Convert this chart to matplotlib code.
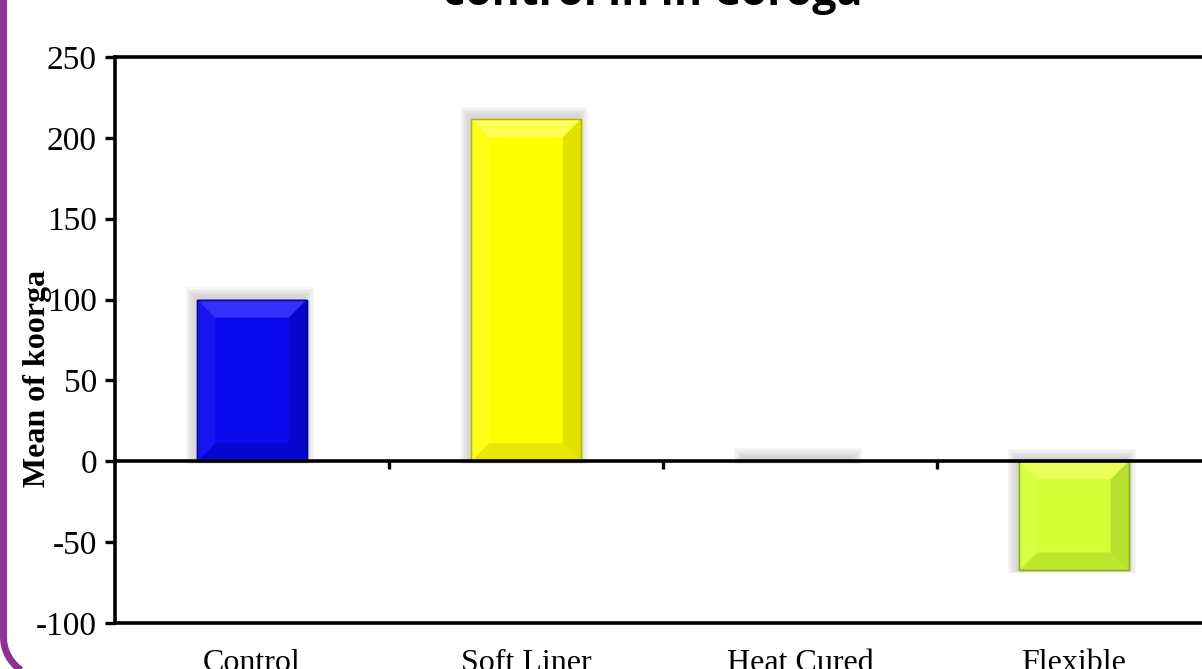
import matplotlib
matplotlib.use("Agg")
import matplotlib.pyplot as plt
from matplotlib.patches import Rectangle, Polygon
from matplotlib.lines import Line2D
import numpy as np

categories = ["Control", "Soft Liner", "Heat Cured", "Flexible"]
values = [100, 211.5, 0.5, -67.5]
colors = ["#0A0AEE", "#FFFF00", "#D8D8D8", "#D2FF36"]
light = ["#3A3AFF", "#FFFF66", "#EEEEEE", "#F0FF60"]
dark = ["#00009A", "#B8B800", "#AAAAAA", "#8FB020"]
yticks = [-100, -50, 0, 50, 100, 150, 200, 250]
title = "control in in Coroga"
ylabel = "Mean of koorga"

W, H = 1202, 669
fig = plt.figure(figsize=(W / 100, H / 100), dpi=100)
ax = fig.add_axes([115 / W, 1 - 623 / H, 1096 / W, 566 / H])

x = np.arange(len(categories))
bw = 0.4
ax.set_xlim(-0.5, len(categories) - 0.5)
ax.set_ylim(-100, 250)

px_x = (len(categories)) / 1096.0
px_y = 350 / 566.0
bev_x = 18 * px_x
bev_y = 18 * px_y

for xi, v, c, lc, dc in zip(x, values, colors, light, dark):
    x0, x1 = xi - bw / 2, xi + bw / 2
    top = max(v, 0)
    bot = min(v, 0)
    for k in range(6, 0, -1):
        e = k * 1.6
        ax.add_patch(Rectangle((x0 - e * px_x - 2 * px_x, bot - e * px_y * 0.3),
                               (x1 - x0) + 2 * e * px_x, (top - bot) + e * px_y * 1.3 + 3 * px_y,
                               facecolor="#707070", alpha=0.05, lw=0, zorder=1))
    if abs(v) < 2:
        continue
    ax.add_patch(Rectangle((x0, bot), x1 - x0, top - bot, facecolor=c,
                           edgecolor=dc, lw=1.0, zorder=3))
    by = min(bev_y, (top - bot) / 2)
    ax.add_patch(Polygon([(x0, top), (x1, top), (x1 - bev_x, top - by), (x0 + bev_x, top - by)],
                         closed=True, facecolor=lc, lw=0, zorder=4, alpha=0.85))
    ax.add_patch(Polygon([(x0, bot), (x1, bot), (x1 - bev_x, bot + by), (x0 + bev_x, bot + by)],
                         closed=True, facecolor=dc, lw=0, zorder=4, alpha=0.3))
    ax.add_patch(Polygon([(x0, bot), (x0, top), (x0 + bev_x, top - by), (x0 + bev_x, bot + by)],
                         closed=True, facecolor=lc, lw=0, zorder=4, alpha=0.25))
    ax.add_patch(Polygon([(x1, bot), (x1, top), (x1 - bev_x, top - by), (x1 - bev_x, bot + by)],
                         closed=True, facecolor=dc, lw=0, zorder=4, alpha=0.4))
    ax.add_patch(Rectangle((x0, bot), x1 - x0, top - bot, facecolor="none",
                           edgecolor=dc, lw=1.0, zorder=5))

ax.axhline(0, color="black", lw=2.6, zorder=6)
bounds = np.arange(len(categories) - 1) + 0.5
ax.plot(bounds, np.zeros_like(bounds), linestyle="none", marker=3,
        markersize=6, mew=2.4, color="black", zorder=6, clip_on=False)

for s in ["left", "top", "bottom"]:
    ax.spines[s].set_linewidth(2.6)
    ax.spines[s].set_color("black")
ax.spines["right"].set_visible(False)

ax.set_yticks(yticks)
ax.set_yticklabels([str(t) for t in yticks], fontfamily="Liberation Serif", fontsize=24)
ax.tick_params(axis="y", direction="out", length=7, width=2.4, pad=6)
ax.set_xticks(x)
ax.set_xticklabels(categories, fontfamily="Liberation Serif", fontsize=23)
ax.tick_params(axis="x", length=0, pad=19)

fig.text(38 / W, 1 - 378 / H, ylabel, rotation=90, ha="center", va="center",
         fontfamily="Liberation Serif", fontweight="bold", fontsize=23)

fig.text(653 / W, 1 - 5 / H, title, ha="center", va="baseline",
         fontfamily="Open Sans", fontweight="bold", fontsize=31)

r = 40.0
xs = [3.5, 3.5]
ys = [-10, H - r]
th = np.linspace(np.pi, 1.5 * np.pi, 20)
cx, cy = 3.5 + r, H - r + 8
xs += list(cx + r * np.cos(th))
ys += list(cy - r * np.sin(th))
fig.add_artist(Line2D(np.array(xs) / W, 1 - np.array(ys) / H, color="#8E3192",
                      lw=5, transform=fig.transFigure, solid_capstyle="butt"))

fig.savefig("out.png", dpi=100, facecolor="white")
